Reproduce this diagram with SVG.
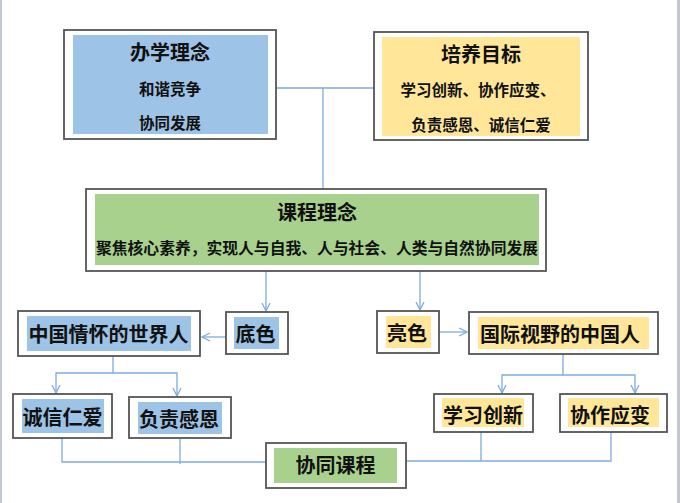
<svg xmlns="http://www.w3.org/2000/svg" width="680" height="503" viewBox="0 0 680 503">
<style>
.box{fill:#fff;stroke:#555;stroke-width:1.8}
.blue{fill:#9DC3E6}
.yel{fill:#FFE699}
.grn{fill:#A9D18E}
text{font-family:"Noto Sans CJK SC","Noto Sans CJK TC",sans-serif;font-weight:bold;fill:#111;text-anchor:middle;dominant-baseline:central}
.t{font-size:20px}
.s{font-size:15.5px}
.c{fill:none;stroke:#7FAADF;stroke-width:1.3}
</style>
<defs>
<marker id="a" viewBox="0 0 10 10" refX="9" refY="5" markerWidth="10" markerHeight="10" markerUnits="userSpaceOnUse" orient="auto">
<path d="M1,1 L9,5 L1,9" fill="none" stroke="#7FAADF" stroke-width="1.3"/>
</marker>
</defs>
<rect x="0" y="0" width="680" height="503" fill="#fff"/>
<rect x="0" y="0" width="2" height="503" fill="#C3C7D0"/>
<rect x="677" y="0" width="3" height="503" fill="#C3C7D0"/>

<g id="connectors">
<path class="c" d="M277,88 H374"/>
<path class="c" d="M323,88 V189"/>
<path class="c" d="M266,271 V311" marker-end="url(#a)"/>
<path class="c" d="M420,271 V310" marker-end="url(#a)"/>
<path class="c" d="M226,337 H202" marker-end="url(#a)"/>
<path class="c" d="M440,332 H467" marker-end="url(#a)"/>
<path class="c" d="M113,356 V373 H56 V393" marker-end="url(#a)"/>
<path class="c" d="M113,373 H177 V396" marker-end="url(#a)"/>
<path class="c" d="M563,354 V375 H502 V393" marker-end="url(#a)"/>
<path class="c" d="M563,375 H635 V393" marker-end="url(#a)"/>
<path class="c" d="M62,438 V462 H266"/>
<path class="c" d="M180,438 V464"/>
<path class="c" d="M406,461 H611 V432"/>
<path class="c" d="M481,432 V461"/>
</g>

<g id="banxue">
<rect class="box" x="64" y="30" width="212" height="109"/>
<rect class="blue" x="73" y="35" width="195" height="99"/>
<text class="t" x="170" y="51">办学理念</text>
<text class="s" x="170" y="87.5">和谐竞争</text>
<text class="s" x="170" y="122">协同发展</text>
</g>

<g id="peiyang">
<rect class="box" x="374" y="32" width="214" height="108"/>
<rect class="yel" x="382" y="37" width="198" height="99"/>
<text class="t" x="481" y="53">培养目标</text>
<text class="s" x="478" y="89">学习创新、协作应变、</text>
<text class="s" x="481" y="124">负责感恩、诚信仁爱</text>
</g>

<g id="kecheng">
<rect class="box" x="86" y="189" width="460" height="82"/>
<rect class="grn" x="95" y="194" width="444" height="71"/>
<text class="t" x="317" y="211">课程理念</text>
<text class="s" x="317" y="247" textLength="442" lengthAdjust="spacingAndGlyphs">聚焦核心素养，实现人与自我、人与社会、人类与自然协同发展</text>
</g>

<g id="dise">
<rect class="box" x="226" y="312" width="62" height="42"/>
<rect class="blue" x="234" y="317" width="45" height="32"/>
<text class="t" x="255.5" y="333">底色</text>
</g>

<g id="zhongguoqinghuai">
<rect class="box" x="18" y="311" width="182" height="45"/>
<rect class="blue" x="27" y="316" width="164" height="35"/>
<text class="t" x="108.5" y="333">中国情怀的世界人</text>
</g>

<g id="liangse">
<rect class="box" x="377" y="311" width="62" height="42"/>
<rect class="yel" x="386" y="316" width="45" height="32"/>
<text class="t" x="407" y="332">亮色</text>
</g>

<g id="guojishiye">
<rect class="box" x="469" y="312" width="189" height="42"/>
<rect class="yel" x="478" y="317" width="171" height="32"/>
<text class="t" x="560" y="333">国际视野的中国人</text>
</g>

<g id="chengxin">
<rect class="box" x="13" y="394" width="99" height="44"/>
<rect class="blue" x="22" y="399" width="82" height="34"/>
<text class="t" x="62.5" y="416">诚信仁爱</text>
</g>

<g id="fuze">
<rect class="box" x="129" y="397" width="102" height="41"/>
<rect class="blue" x="138" y="402" width="84" height="32"/>
<text class="t" x="179" y="418">负责感恩</text>
</g>

<g id="xuexi">
<rect class="box" x="434" y="394" width="99" height="38"/>
<rect class="yel" x="442" y="398" width="82" height="29"/>
<text class="t" x="483" y="414">学习创新</text>
</g>

<g id="xiezuo">
<rect class="box" x="560" y="394" width="107" height="38"/>
<rect class="yel" x="568" y="398" width="91" height="29"/>
<text class="t" x="610" y="414">协作应变</text>
</g>

<g id="xietong">
<rect class="box" x="266" y="443" width="140" height="45"/>
<rect class="grn" x="274" y="448" width="123" height="35"/>
<text class="t" x="335.5" y="464">协同课程</text>
</g>
</svg>
